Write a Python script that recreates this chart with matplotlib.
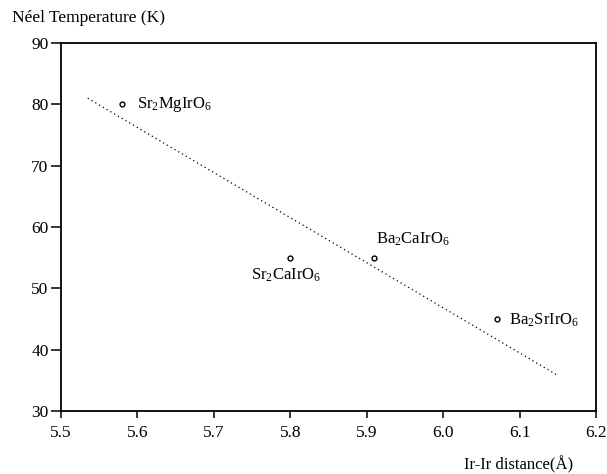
import matplotlib
matplotlib.use("Agg")
import matplotlib.pyplot as plt

plt.rcParams['font.family'] = ['Liberation Serif', 'DejaVu Serif']
plt.rcParams['mathtext.fontset'] = 'custom'
plt.rcParams['mathtext.rm'] = 'Liberation Serif'
plt.rcParams['mathtext.it'] = 'Liberation Serif:italic'
plt.rcParams['mathtext.bf'] = 'Liberation Serif:bold'

compounds = [r'Sr$_{\mathrm{2}}$MgIrO$_{\mathrm{6}}$', r'Sr$_{\mathrm{2}}$CaIrO$_{\mathrm{6}}$',
             r'Ba$_{\mathrm{2}}$CaIrO$_{\mathrm{6}}$', r'Ba$_{\mathrm{2}}$SrIrO$_{\mathrm{6}}$']
distance = [5.58, 5.80, 5.91, 6.07]
neel_T = [80, 55, 55, 45]
fit_x = [5.535, 6.15]
fit_y = [81.0, 35.8]
xticks = [5.5, 5.6, 5.7, 5.8, 5.9, 6.0, 6.1, 6.2]
xticklabels = ['5.5', '5.6', '5.7', '5.8', '5.9', '6.0', '6.1', '6.2']
yticks = [30, 40, 50, 60, 70, 80, 90]

fig = plt.figure(figsize=(6.07, 4.74), dpi=100)
ax = fig.add_axes([61/607, 63/474, 535/607, 368/474])

ax.plot(fit_x, fit_y, linestyle=(0, (1, 2.5)), color='black', linewidth=0.9)
ax.plot(distance, neel_T, linestyle='none', marker='o', markersize=3.5,
        markerfacecolor='white', markeredgecolor='black', markeredgewidth=1.0)

offsets = [(11, 0, 'left', 'center'), (-3, -13, 'center', 'center'),
           (1, 13, 'left', 'center'), (9, -1, 'left', 'center')]
for name, x, y, (dx, dy, ha, va) in zip(compounds, distance, neel_T, offsets):
    ax.annotate(name, (x, y), xytext=(dx, dy), textcoords='offset points',
                ha=ha, va=va, fontsize=12)

ax.set_xlim(5.5, 6.2)
ax.set_ylim(30, 90)
ax.set_xticks(xticks)
ax.set_xticklabels(xticklabels)
ax.set_yticks(yticks)
ax.tick_params(direction='out', width=1.1, labelsize=12.5, colors='black')
ax.tick_params(axis='y', length=7, pad=2)
ax.tick_params(axis='x', length=5, pad=5)
for s in ax.spines.values():
    s.set_linewidth(1.3)

fig.text(12/607, 1 - 18/474, 'Néel Temperature (K)', ha='left', va='center', fontsize=12.5)
fig.text(573/607, 1 - 465/474, 'Ir-Ir distance(Å)', ha='right', va='center', fontsize=12)

fig.savefig('out.png', dpi=100)
